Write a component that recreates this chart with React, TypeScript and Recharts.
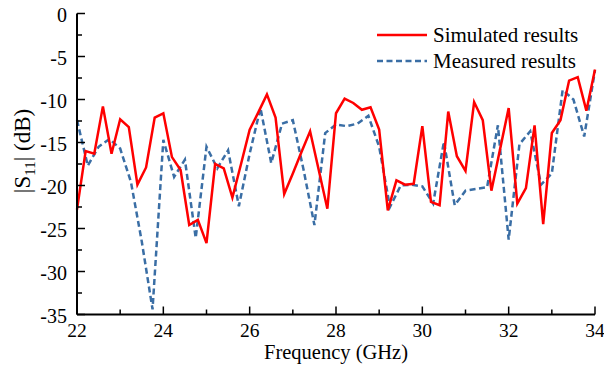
import { LineChart, Line, XAxis, YAxis, Legend } from 'recharts';

// simulated |S11| sweep: 22 to 34 GHz, 0.2 GHz step
const SIM_START = 22;
const SIM_STEP = 0.2;
const simulated = [
  -22.8, -16.0, -16.3, -10.8, -16.3, -12.3, -13.2, -19.9, -17.9, -12.1,
  -11.6, -16.7, -18.2, -24.6, -24.0, -26.7, -17.5, -18.0, -21.4, -17.5,
  -13.5, -11.5, -9.4, -12.1, -21.0, -18.6, -16.1, -13.7, -18.2, -22.7,
  -11.6, -9.9, -10.4, -11.2, -10.9, -13.5, -22.9, -19.4, -19.9, -19.8,
  -13.1, -21.9, -22.3, -11.4, -16.6, -18.3, -10.3, -12.4, -20.6, -15.8,
  -11.0, -22.1, -20.3, -13.0, -24.5, -13.9, -12.4, -7.8, -7.4, -11.3,
  -6.5,
];

// measured |S11| sweep: 22 to 34 GHz, 0.25 GHz step
const MEAS_START = 22;
const MEAS_STEP = 0.25;
const measured = [
  -12.4, -17.7, -15.5, -14.6, -15.7, -19.6, -26.5, -34.4,
  -14.7, -19.0, -17.0, -26.1, -15.5, -18.0, -15.9, -22.4,
  -16.3, -11.0, -17.4, -12.8, -12.4, -18.2, -24.6, -13.9,
  -12.9, -13.1, -12.8, -11.9, -15.5, -22.5, -20.0, -19.9,
  -20.1, -22.1, -14.9, -22.3, -20.6, -20.4, -20.2, -13.0,
  -26.3, -15.2, -13.7, -19.9, -18.6, -8.9, -10.0, -14.3,
  -6.6,
];

const xTicks = [22, 23, 24, 25, 26, 27, 28, 29, 30, 31, 32, 33, 34];
const xLabelTicks = [22, 24, 26, 28, 30, 32, 34];
const yTicks = [-35, -32.5, -30, -27.5, -25, -22.5, -20, -17.5, -15, -12.5, -10, -7.5, -5, -2.5, 0];
const yLabelTicks = [-35, -30, -25, -20, -15, -10, -5, 0];

const simData = simulated.map((v, i) => ({ f: +(SIM_START + i * SIM_STEP).toFixed(2), v }));
const measData = measured.map((v, i) => ({ f: +(MEAS_START + i * MEAS_STEP).toFixed(2), v }));

const FONT = '"Liberation Serif", "Times New Roman", serif';
const RED = '#ff0000';
const BLUE = '#3a6ea5';

// ticks point into the plot; long ones carry a label
function makeTick(side: 'bottom' | 'top' | 'left' | 'right', labelled: number[], withText: boolean) {
  return (props: any) => {
    const { x, y, payload } = props;
    const v = payload.value;
    const major = labelled.includes(v);
    const len = major ? 8 : 5;
    let x2 = x, y2 = y;
    if (side === 'bottom') y2 = y - len;
    if (side === 'top') y2 = y + len;
    if (side === 'left') x2 = x + len;
    if (side === 'right') x2 = x - len;
    return (
      <g>
        <line x1={x} y1={y} x2={x2} y2={y2} stroke="#000" strokeWidth={1.5} />
        {withText && major && side === 'bottom' && (
          <text x={x} y={y + 22} textAnchor="middle" fontFamily={FONT} fontSize={19.5} fill="#000">{v}</text>
        )}
        {withText && major && side === 'left' && (
          <text x={x - 10} y={y + 8} textAnchor="end" fontFamily={FONT} fontSize={20} fill="#000">{v}</text>
        )}
      </g>
    );
  };
}

const YLabel = () => (
  <text x={30} y={151} transform="rotate(-90, 30, 151)" textAnchor="middle" fontFamily={FONT} fontSize={23} fill="#000">
    |S<tspan fontSize={15} dy={5}>11</tspan><tspan dy={-5}>| (dB)</tspan>
  </text>
);

const XLabel = () => (
  <text x={336} y={358.5} textAnchor="middle" fontFamily={FONT} fontSize={20.5} fill="#000">Frequency (GHz)</text>
);

const LegendBox = () => (
  <div style={{ fontFamily: FONT, fontSize: 21, lineHeight: '26px', color: '#000' }}>
    <div style={{ display: 'flex', alignItems: 'center', height: 26 }}>
      <svg width={56} height={26}><line x1={0} y1={13} x2={50} y2={13} stroke={RED} strokeWidth={2.5} /></svg>
      <span>Simulated results</span>
    </div>
    <div style={{ display: 'flex', alignItems: 'center', height: 26 }}>
      <svg width={56} height={26}><line x1={0} y1={13} x2={50} y2={13} stroke={BLUE} strokeWidth={2.5} strokeDasharray="6 3.5" /></svg>
      <span>Measured results</span>
    </div>
  </div>
);

export default function App() {
  return (
    <div style={{ position: 'absolute', left: 0, top: 0, background: '#fff' }}>
      <LineChart width={604} height={370} margin={{ top: 13.5, right: 9, bottom: 0, left: 0 }}>
        <XAxis
          dataKey="f"
          type="number"
          domain={[22, 34]}
          ticks={xTicks}
          interval={0}
          height={55.5}
          tickSize={0}
          tickMargin={0}
          tickLine={false}
          axisLine={{ stroke: '#000', strokeWidth: 2 }}
          tick={makeTick('bottom', xLabelTicks, true)}
          label={<XLabel />}
        />
        <XAxis
          xAxisId="top"
          orientation="top"
          dataKey="f"
          type="number"
          domain={[22, 34]}
          ticks={xTicks}
          interval={0}
          height={0}
          tickSize={0}
          tickMargin={0}
          tickLine={false}
          axisLine={{ stroke: '#000', strokeWidth: 2 }}
          tick={makeTick('top', xLabelTicks, false)}
        />
        <YAxis
          type="number"
          domain={[-35, 0]}
          ticks={yTicks}
          interval={0}
          width={77}
          tickSize={0}
          tickMargin={0}
          tickLine={false}
          axisLine={{ stroke: '#000', strokeWidth: 2 }}
          tick={makeTick('left', yLabelTicks, true)}
          label={<YLabel />}
        />
        <YAxis
          yAxisId="right"
          orientation="right"
          type="number"
          domain={[-35, 0]}
          ticks={yTicks}
          interval={0}
          width={0}
          tickSize={0}
          tickMargin={0}
          tickLine={false}
          axisLine={{ stroke: '#000', strokeWidth: 2 }}
          tick={makeTick('right', yLabelTicks, false)}
        />
        <Legend
          layout="vertical"
          align="center"
          verticalAlign="middle"
          content={<LegendBox />}
          wrapperStyle={{ left: 377, top: 22, width: 'auto', height: 'auto' }}
        />
        <Line
          data={measData}
          dataKey="v"
          type="linear"
          stroke={BLUE}
          strokeWidth={2.5}
          strokeDasharray="6 3.5"
          dot={false}
          isAnimationActive={false}
        />
        <Line
          data={simData}
          dataKey="v"
          type="linear"
          stroke={RED}
          strokeWidth={2.5}
          dot={false}
          isAnimationActive={false}
        />
      </LineChart>
    </div>
  );
}
